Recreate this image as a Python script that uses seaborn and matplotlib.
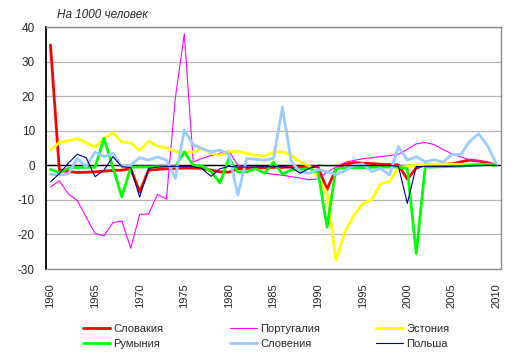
import numpy as np
import pandas as pd
import matplotlib
matplotlib.use("Agg")
import matplotlib.pyplot as plt
import seaborn as sns

years = list(range(1960, 2011))

slovakia = [34.8, -1.5, -1.8, -2.1, -2.0, -1.9, -1.7, -1.5, -1.4, -1.0,
            -7.7, -1.4, -1.2, -1.0, -0.9, -0.8, -0.8, -0.9, -1.4, -1.9,
            -2.0, -1.0, -0.9, -0.8, -0.7, -0.6, -0.6, -0.5, -0.5, -0.3,
            -0.5, -7.0, -1.0, 0.3, 0.8, 0.6, 0.5, 0.3, 0.2, 0.1,
            -4.0, -0.8, 0.1, 0.2, 0.3, 0.4, 1.0, 1.5, 1.2, 0.7, 0.1]
portugal = [-6.3, -4.5, -8.3, -10.2, -15.0, -19.7, -20.4, -16.6, -16.1, -24.0,
            -14.2, -14.1, -8.4, -9.8, 19.5, 38.0, 1.0, 2.0, 2.8, 3.5,
            4.2, 0.0, -0.5, -1.2, -2.2, -2.6, -2.9, -3.3, -3.7, -4.2,
            -3.9, -2.0, -0.5, 0.8, 1.4, 1.9, 2.2, 2.5, 2.8, 3.2,
            4.6, 6.2, 6.6, 6.0, 4.6, 3.3, 2.4, 1.6, 1.3, 1.0, 0.2]
estonia = [4.4, 6.6, 7.1, 7.7, 6.5, 5.3, 7.8, 9.4, 6.7, 6.5,
           4.3, 7.0, 5.5, 5.0, 4.0, 3.6, 3.9, 4.8, 3.5, 2.9,
           3.9, 4.1, 3.4, 2.9, 2.7, 3.9, 3.9, 2.9, 1.0, -0.2,
           -3.5, -8.0, -27.5, -19.3, -14.5, -11.1, -10.0, -5.3, -4.8, -0.5,
           -0.3, 0.0, 0.2, 0.3, 0.3, 0.3, 0.3, 0.3, 0.3, 0.2, 0.0]
romania = [-1.2, -2.1, -0.9, -0.6, -0.6, -0.6, 7.8, -0.6, -9.1, -0.6,
           -0.5, -0.5, -0.4, -0.4, -0.4, 3.9, 0.0, -0.2, -1.8, -5.1,
           2.0, -1.9, -1.9, -0.9, -2.3, 0.9, -2.5, -1.3, -1.2, -0.9,
           -2.0, -17.9, -0.9, -0.8, -0.7, -0.7, -0.6, -0.5, -0.5, -0.5,
           -1.0, -25.5, -0.5, -0.5, -0.4, -0.3, -0.3, 0.0, 0.2, 0.2, 0.0]
slovenia = [-2.6, -2.8, -2.5, 2.0, -0.4, 3.8, 2.5, 3.5, -0.4, 0.0,
            2.2, 1.5, 2.4, 1.5, -3.8, 10.2, 6.0, 4.8, 3.9, 4.4,
            3.2, -8.6, 2.0, 1.7, 1.5, 2.0, 16.8, 1.0, -1.9, -2.3,
            -1.2, -1.9, -2.7, -1.6, 0.0, 0.4, -1.8, -0.9, -2.8, 5.4,
            1.5, 2.5, 1.0, 1.6, 0.9, 3.1, 3.1, 7.0, 9.1, 5.6, 0.3]
poland = [-4.8, -2.4, 0.6, 3.2, 2.2, -3.3, -1.4, 2.5, -0.4, -0.7,
          -9.2, -0.9, -0.5, -0.4, -0.3, -0.3, -0.4, -1.0, -3.2, -1.0,
          -0.3, -0.5, -0.5, -0.5, -0.4, -0.4, -0.4, -0.7, -2.3, -0.9,
          0.0, -0.1, -0.1, -0.1, -0.1, -0.1, -0.1, -0.1, -0.1, -0.3,
          -11.0, -0.4, -0.3, -0.3, -0.3, -0.3, -0.2, -0.2, -0.1, 0.0, 0.0]

names = ["Словакия", "Португалия", "Эстония", "Румыния", "Словения", "Польша"]
series = [slovakia, portugal, estonia, romania, slovenia, poland]
colors = ["#FF0000", "#FF00FF", "#FFFF00", "#00FF00", "#99CCFF", "#000080"]
widths = [2.0, 0.8, 2.0, 2.0, 2.0, 0.8]

df = pd.DataFrame({"year": years})
for n, s in zip(names, series):
    df[n] = s

sns.set_style("white")
plt.rcParams["font.family"] = ["Liberation Sans", "DejaVu Sans"]
plt.rcParams["axes.unicode_minus"] = False

fig = plt.figure(figsize=(5.16, 3.58), dpi=100)
ax = fig.add_axes([46 / 516, 1 - 269 / 358, (501 - 46) / 516, (269 - 27) / 358])

handles = {}
for n, c, w in zip(names, colors, widths):
    sns.lineplot(data=df, x="year", y=n, ax=ax, color=c, linewidth=w, zorder=3)
    handles[n] = ax.lines[-1]

ax.axhline(0, color="black", lw=1.0, zorder=2)

ax.set_xlim(1959.5, 2010.5)
ax.set_ylim(-30, 40)
ax.set_yticks(range(-30, 41, 10))
ax.set_xticks(range(1960, 2011, 5))
ax.set_xticklabels([str(y) for y in range(1960, 2011, 5)], rotation=90)
ax.yaxis.grid(True, color="#B4B4B4", lw=0.9)
ax.set_axisbelow(True)
ax.set_xlabel("")
ax.set_ylabel("")
ax.tick_params(axis="x", length=0, pad=10, labelsize=8)
ax.tick_params(axis="y", length=0, pad=8, labelsize=8.5)

for side in ["top", "right", "bottom"]:
    ax.spines[side].set_color("#8C8C8C")
    ax.spines[side].set_linewidth(1.0)
ax.spines["left"].set_color("black")
ax.spines["left"].set_linewidth(1.3)

fig.text(57 / 516, 1 - 15 / 358, "На 1000 человек", fontsize=8.5,
         style="italic", va="center", ha="left")

# three legend columns, filled row by row like the original
cols = [(names[0], names[3]), (names[1], names[4]), (names[2], names[5])]
xs = [83, 230, 376]
for (a, b), x0 in zip(cols, xs):
    leg = fig.legend([handles[a], handles[b]], [a, b], loc="upper left",
                     bbox_to_anchor=(x0 / 516, 1 - 324 / 358), frameon=False,
                     fontsize=8, handlelength=2.4, handletextpad=0.3,
                     borderpad=0, borderaxespad=0, labelspacing=0.45)

fig.savefig("out.png", dpi=100)
